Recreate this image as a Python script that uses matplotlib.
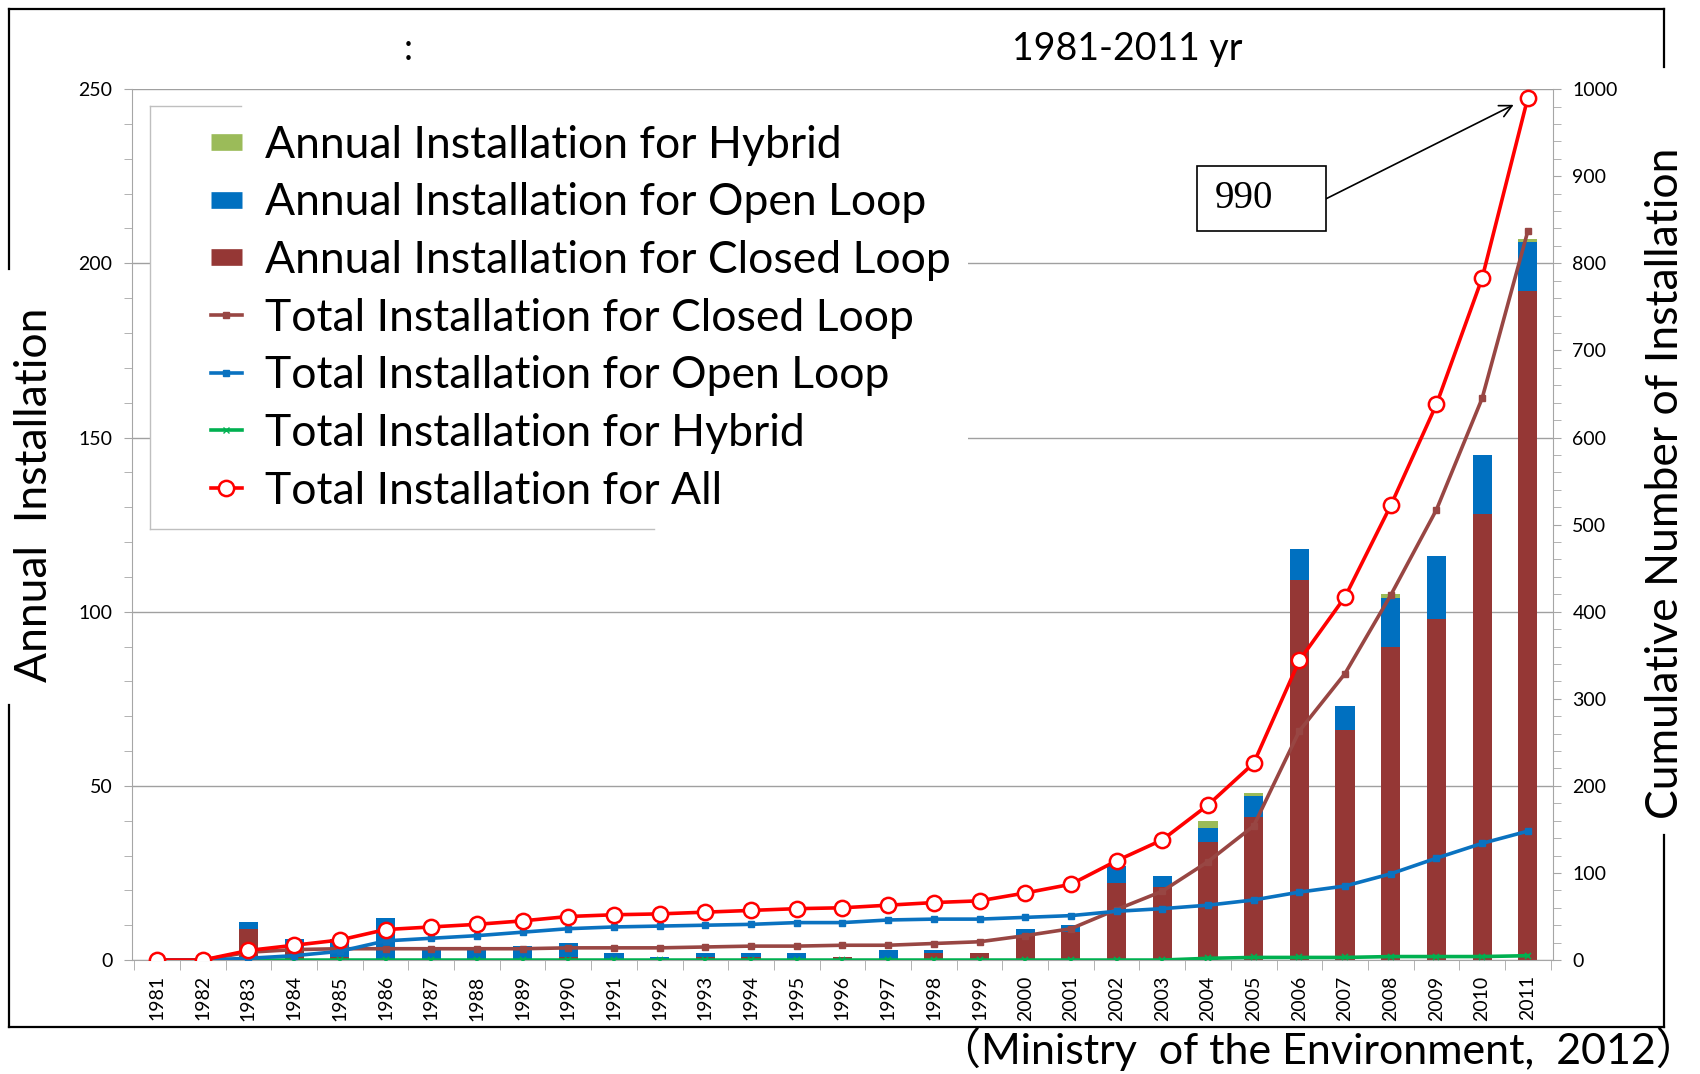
import numpy as np
import matplotlib.pyplot as plt
from matplotlib.lines import Line2D
from matplotlib.patches import Rectangle
from matplotlib.ticker import MultipleLocator

plt.rcParams['font.family'] = ['Lato', 'DejaVu Sans']

# Data (1981-2011)
years = [str(y) for y in range(1981, 2012)]

closed_annual = [0, 0, 9, 3, 1, 0, 0, 0, 0, 1, 0, 0, 1, 1, 0, 1,
                 0, 2, 2, 7, 8, 22, 21, 34, 41, 109, 66, 90, 98, 128, 192]
open_annual = [0, 0, 2, 3, 5, 12, 3, 3, 4, 4, 2, 1, 1, 1, 2, 0,
               3, 1, 0, 2, 2, 5, 3, 4, 6, 9, 7, 14, 18, 17, 14]
hybrid_annual = [0, 0, 0, 0, 0, 0, 0, 0, 0, 0, 0, 0, 0, 0, 0, 0,
                 0, 0, 0, 0, 0, 0, 0, 2, 1, 0, 0, 1, 0, 0, 1]

closed_total = [0, 0, 9, 12, 13, 13, 13, 13, 13, 14, 14, 14, 15, 16, 16, 17,
                17, 19, 21, 28, 36, 58, 79, 113, 154, 263, 329, 419, 517, 645, 837]
open_total = [0, 0, 2, 5, 10, 22, 25, 28, 32, 36, 38, 39, 40, 41, 43, 43,
              46, 47, 47, 49, 51, 56, 59, 63, 69, 78, 85, 99, 117, 134, 148]
hybrid_total = [0, 0, 0, 0, 0, 0, 0, 0, 0, 0, 0, 0, 0, 0, 0, 0,
                0, 0, 0, 0, 0, 0, 0, 2, 3, 3, 3, 4, 4, 4, 5]
all_total = [0, 0, 11, 17, 23, 35, 38, 41, 45, 50, 52, 53, 55, 57, 59, 60,
             63, 66, 68, 77, 87, 114, 138, 178, 226, 344, 417, 522, 638, 783, 990]

labels = ["Annual Installation for Hybrid",
          "Annual Installation for Open Loop",
          "Annual Installation for Closed Loop",
          "Total Installation for Closed Loop",
          "Total Installation for Open Loop",
          "Total Installation for Hybrid",
          "Total Installation for All"]

c_closed = '#953735'
c_open = '#0070C0'
c_hybrid = '#9BBB59'
c_closed_line = '#984643'
c_open_line = '#0A72C0'
c_hybrid_line = '#00B050'
c_all = '#FF0000'
gray = '#A6A6A6'

fig = plt.figure(figsize=(17, 10.74), dpi=100)
fig.set_facecolor('w')
ax = fig.add_axes([0.0776, 0.1061, 0.8359, 0.8109])
ax2 = ax.twinx()

x = np.arange(len(years))
ca = np.array(closed_annual)
oa = np.array(open_annual)
ha = np.array(hybrid_annual)
bw = 0.42
ax.bar(x, ca, width=bw, color=c_closed, zorder=2)
ax.bar(x, oa, width=bw, bottom=ca, color=c_open, zorder=2)
ax.bar(x, ha, width=bw, bottom=ca + oa, color=c_hybrid, zorder=2)

ax.set_xlim(-0.55, len(years) - 0.45)
ax.set_ylim(0, 250)
ax2.set_ylim(0, 1000)

ax2.plot(x, hybrid_total, color=c_hybrid_line, lw=2.6, marker='x', ms=4, mew=1.2)
ax2.plot(x, closed_total, color=c_closed_line, lw=2.6, marker='s', ms=5)
ax2.plot(x, open_total, color=c_open_line, lw=2.6, marker='s', ms=5)
ax2.plot(x, all_total, color=c_all, lw=2.6, marker='o', ms=11,
         mfc='white', mec=c_all, mew=1.8)

# axes styling
ax.yaxis.set_major_locator(MultipleLocator(50))
ax.yaxis.set_minor_locator(MultipleLocator(10))
ax2.yaxis.set_major_locator(MultipleLocator(100))
ax2.yaxis.set_minor_locator(MultipleLocator(20))
ax.tick_params(axis='y', which='both', direction='out', length=6, color=gray,
               labelsize=14, pad=8)
ax2.tick_params(axis='y', which='both', direction='out', length=6, color=gray,
                labelsize=14, pad=8)
ax.grid(axis='y', which='major', color='#A0A0A0', lw=1)
ax.set_axisbelow(True)

ax.set_xticks(x)
ax.set_xticklabels(years, rotation=90, fontsize=14)
ax.set_xticks(np.arange(-0.5, len(years), 1), minor=True)
ax.tick_params(axis='x', which='major', length=0, pad=11)
ax.tick_params(axis='x', which='minor', length=7, color=gray)

for s in ['top', 'right']:
    ax.spines[s].set_visible(False)
for s in ['top', 'left', 'bottom']:
    ax2.spines[s].set_visible(False)
ax.spines['left'].set_color(gray)
ax.spines['bottom'].set_color(gray)
ax2.spines['right'].set_color(gray)

# legend
handles = [Line2D([0], [0], color=c_hybrid, lw=12, solid_capstyle='butt'),
           Line2D([0], [0], color=c_open, lw=12, solid_capstyle='butt'),
           Line2D([0], [0], color=c_closed, lw=12, solid_capstyle='butt'),
           Line2D([0], [0], color=c_closed_line, lw=2.6, marker='s', ms=5),
           Line2D([0], [0], color=c_open_line, lw=2.6, marker='s', ms=5),
           Line2D([0], [0], color=c_hybrid_line, lw=2.6, marker='x', ms=4),
           Line2D([0], [0], color=c_all, lw=2.6, marker='o', ms=11,
                  mfc='white', mec=c_all, mew=1.8)]
ax2.add_patch(Rectangle((150 / 1700, 1 - 529 / 1074), 818 / 1700, 423 / 1074,
                        transform=fig.transFigure, fc='white', ec='none', zorder=1))
leg = ax2.legend(handles, labels, loc='upper left', bbox_to_anchor=(0.124, 0.884),
                 bbox_transform=fig.transFigure, frameon=False, fontsize=32,
                 handlelength=0.7, handletextpad=0.53, labelspacing=0.375,
                 borderaxespad=0, borderpad=0)
for xs, ys in [([0.0882, 0.0882], [0.9013, 0.5074]),
               ([0.0882, 0.1418], [0.9013, 0.9013]),
               ([0.0882, 0.3847], [0.5074, 0.5074])]:
    fig.add_artist(Line2D(xs, ys, transform=fig.transFigure, color='#BFBFBF', lw=1))

# callout
ax2.add_patch(Rectangle((22.76, 837), 2.82, 74.6, fc='white', ec='black', lw=1.2, zorder=4))
ax2.text(23.15, 874, '990', family='Liberation Serif', fontsize=28, va='center', zorder=5)
ax2.annotate('', xy=(29.69, 982), xytext=(25.58, 874),
             arrowprops=dict(arrowstyle='->', color='black', lw=1.2,
                             shrinkA=0, shrinkB=0, mutation_scale=22))

# outer frame (broken by the axis titles)
for xs, ys in [([0.0051, 0.979], [0.9919, 0.9919]),
               ([0.0051, 0.979], [0.0438, 0.0438]),
               ([0.0051, 0.0051], [0.9919, 0.7495]),
               ([0.0051, 0.0051], [0.3436, 0.0438]),
               ([0.979, 0.979], [0.9919, 0.9376]),
               ([0.979, 0.979], [0.2225, 0.0438])]:
    fig.add_artist(Line2D(xs, ys, transform=fig.transFigure, color='black', lw=1.6))

fig.text(0.24, 0.954, ':', fontsize=26, ha='center', va='center')
fig.text(0.663, 0.954, '1981-2011 yr', fontsize=27, ha='center', va='center')
fig.text(0.0204, 0.539, 'Annual  Installation', rotation=90, fontsize=32,
         ha='center', va='center')
fig.text(0.980, 0.5497, 'Cumulative Number of Installation', rotation=90,
         fontsize=32, ha='center', va='center')
fig.text(0.999, 0.0235, '（Ministry  of the Environment,  2012）', ha='right',
         va='center', fontsize=31, family=['Lato', 'Noto Sans CJK JP'])

plt.savefig('out.png', dpi=100)
